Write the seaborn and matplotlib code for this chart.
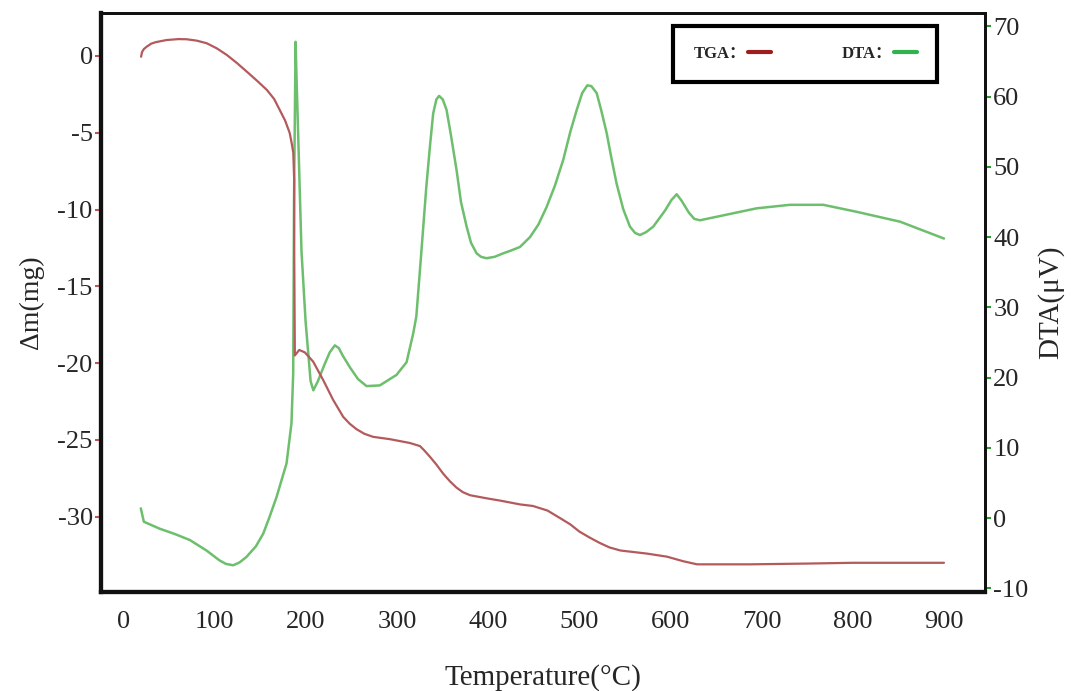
import numpy as np
import pandas as pd
import matplotlib
matplotlib.use("Agg")
import matplotlib.pyplot as plt
import seaborn as sns
from matplotlib.lines import Line2D

sns.set_style("white")
plt.rcParams['font.family'] = ['Liberation Serif', 'Noto Sans CJK SC', 'DejaVu Serif']
plt.rcParams['axes.unicode_minus'] = False

# ---- Data ----
tga_temp = [19, 20, 22, 25, 30, 35, 47, 60, 69, 80, 91, 102, 113, 124, 135, 146, 157, 165, 171, 177,
            182, 184, 186, 187, 187, 187.7, 192.5, 198.7, 207.8, 218.8, 229.8, 240.8, 248, 255.4, 264,
            273.7, 292, 314, 325, 330, 336, 343, 350.5, 358, 365, 372, 380, 398, 413, 435, 449, 465,
            479, 490, 500, 511, 522, 533, 545, 574, 596, 614, 629, 687, 750, 800, 850, 900]
tga_mass = [-0.05, 0.25, 0.45, 0.6, 0.8, 0.9, 1.04, 1.1, 1.09, 1.0, 0.83, 0.5, 0.07, -0.45, -1.02, -1.6,
            -2.21, -2.8, -3.5, -4.2, -5.0, -5.6, -6.3, -8.1, -12.5, -19.5, -19.14, -19.3, -19.9, -21.1,
            -22.4, -23.5, -23.95, -24.3, -24.6, -24.8, -24.95, -25.2, -25.4, -25.7, -26.1, -26.6, -27.2,
            -27.7, -28.1, -28.4, -28.6, -28.8, -28.95, -29.2, -29.3, -29.6, -30.1, -30.5, -30.97, -31.35,
            -31.7, -32.0, -32.2, -32.4, -32.6, -32.9, -33.1, -33.1, -33.05, -33.0, -33.0, -33.0]

dta_temp = [18.7, 22, 39.5, 55, 72.4, 90.8, 105, 112, 120, 127, 134.7, 145, 153, 160, 167.6, 178.6, 184,
            185.9, 186.8, 188.5, 189.5, 195, 199.5, 205, 208, 213, 220, 226, 231.6, 236, 240, 248, 257,
            266.4, 281, 299.3, 310.3, 317.6, 321, 326, 332, 336, 339.5, 343, 346, 350, 354.2, 359, 365.2,
            370, 376.2, 381, 387.1, 392, 398, 407, 416.4, 425, 434.7, 445.7, 455, 464, 473, 482.2, 490,
            497, 503, 508.6, 513, 518.9, 524, 529.9, 535, 540.8, 548, 555.4, 561, 566.4, 573, 581, 594,
            601, 606.7, 612, 620, 626, 632.3, 657.8, 694.4, 731, 767.6, 804.3, 851.8, 900]
dta_signal = [1.4, -0.5, -1.5, -2.2, -3.1, -4.6, -6.0, -6.5, -6.7, -6.3, -5.5, -4.0, -2.2, 0.2, 3.0, 7.8,
              13.5, 20.6, 45, 67.8, 63, 38, 28, 19.5, 18.2, 19.5, 21.8, 23.6, 24.6, 24.2, 23.2, 21.5,
              19.8, 18.8, 18.9, 20.4, 22.2, 26.3, 28.7, 37, 47.2, 53, 57.6, 59.6, 60.1, 59.6, 58.1,
              54.5, 49.5, 45, 41.5, 39.2, 37.7, 37.2, 37.0, 37.2, 37.7, 38.1, 38.6, 40.0, 41.8, 44.3,
              47.3, 51.0, 55, 58.1, 60.5, 61.6, 61.5, 60.5, 58, 54.8, 51.3, 47.6, 44, 41.5, 40.6, 40.3,
              40.7, 41.5, 43.8, 45.3, 46.1, 45.2, 43.5, 42.6, 42.4, 43.1, 44.1, 44.6, 44.6, 43.6, 42.2,
              39.8]

x_ticks = [0, 100, 200, 300, 400, 500, 600, 700, 800, 900]
left_ticks = [0, -5, -10, -15, -20, -25, -30]
right_ticks = [-10, 0, 10, 20, 30, 40, 50, 60, 70]

tga_df = pd.DataFrame({"Temperature": tga_temp, "mass": tga_mass})
dta_df = pd.DataFrame({"Temperature": dta_temp, "DTA": dta_signal})

red = "#b35a5c"
green = "#6dbf6d"

fig = plt.figure(figsize=(10.71, 6.91), dpi=100)
ax = fig.add_axes([0.0943, 0.1433, 0.8254, 0.8379])
ax2 = ax.twinx()

sns.lineplot(data=tga_df, x="Temperature", y="mass", ax=ax, color=red, lw=1.6,
             sort=False, estimator=None)
sns.lineplot(data=dta_df, x="Temperature", y="DTA", ax=ax2, color=green, lw=1.8,
             sort=False, estimator=None)

ax.set_xlim(-25, 945)
ax.set_ylim(-34.9, 2.8)
ax2.set_ylim(-10.5, 71.9)

ax.set_xticks(x_ticks)
ax.set_xticks([50 + 100 * i for i in range(9)], minor=True)
ax.set_yticks(left_ticks)
ax2.set_yticks(right_ticks)

ax.tick_params(axis='x', which='both', direction='out', length=4, width=1.5, color=red,
               labelsize=19, pad=10)
ax.tick_params(axis='y', direction='out', length=4, width=1.5, color=red, labelsize=19, pad=2)
ax2.tick_params(axis='y', direction='out', length=4, width=1.5, color="#2a9a2a", labelsize=19, pad=2)

for a in (ax, ax2):
    for s in a.spines.values():
        s.set_color("#111111")
    a.spines['left'].set_linewidth(3)
    a.spines['bottom'].set_linewidth(3)
    a.spines['top'].set_linewidth(2)
    a.spines['right'].set_linewidth(2)

ax.set_xlabel("Temperature(°C)", fontsize=21, labelpad=22)
ax.set_ylabel("Δm(mg)", fontsize=20, labelpad=10)
ax2.set_ylabel("DTA(μV)", fontsize=21, labelpad=6)

handles = [Line2D([0], [0], color="#9b1f1f", lw=3),
           Line2D([0], [0], color="#2fb34a", lw=3)]
leg = ax.legend(handles, ["TGA：", "DTA："], ncol=2, markerfirst=False,
                bbox_to_anchor=(0.638, 0.881, 0.317, 0.098), mode="expand", loc="center",
                fancybox=False, framealpha=1, edgecolor="black", borderpad=1.2,
                handlelength=1.4, handletextpad=0.1, columnspacing=4,
                prop={"weight": "bold", "size": 12,
                      "family": ['Liberation Serif', 'Noto Sans CJK SC']})
leg.get_frame().set_linewidth(3)
leg.set_zorder(10)
ax.set_zorder(ax2.get_zorder() + 1)
ax.patch.set_visible(False)

fig.savefig("out.png", dpi=100)
